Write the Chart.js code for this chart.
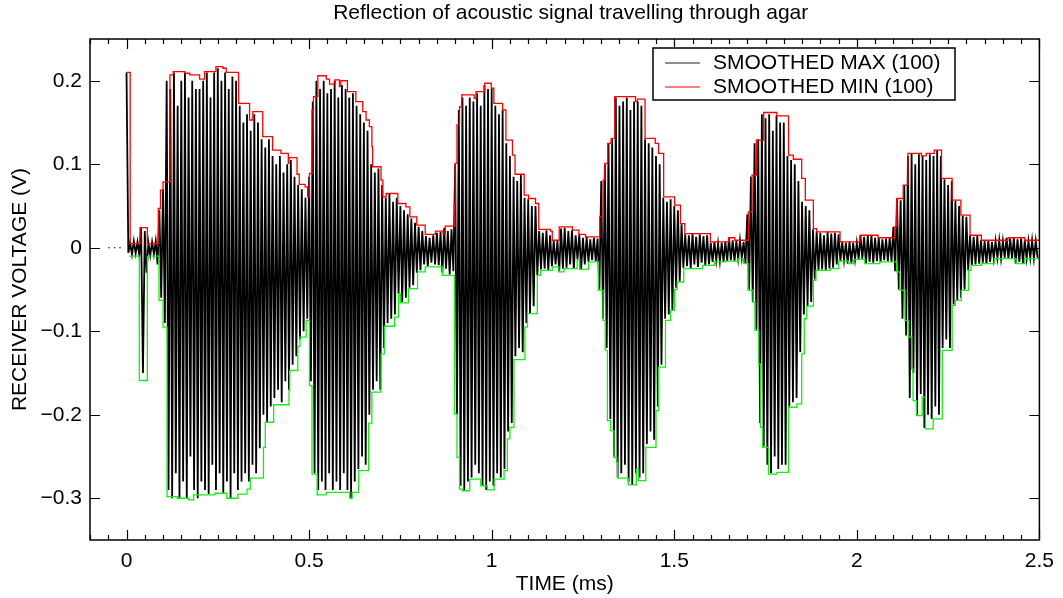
<!DOCTYPE html>
<html>
<head>
<meta charset="utf-8">
<script src="https://cdn.jsdelivr.net/npm/chart.js@4.4.1/dist/chart.umd.min.js"></script>
<style>
  html, body { margin: 0; padding: 0; background: #fff; }
  #wrap { width: 1063px; height: 598px; }
</style>
</head>
<body>
<div id="wrap"><canvas id="c" width="1063" height="598"></canvas></div>
<script>
// axis ticks
const xTickVals = [0, 0.5, 1, 1.5, 2, 2.5];
const yTickVals = [-0.3, -0.2, -0.1, 0, 0.1, 0.2];
const legendLabels = ['SMOOTHED MAX (100)', 'SMOOTHED MIN (100)'];
const chartTitle = 'Reflection of acoustic signal travelling through agar';

// raw receiver signal: one peak + one trough per 0.01 ms (V)
const SIG_T0 = 0, SIG_DT = 0.01;
const sigPeak = [
  0.21, 0.006, 0.008, 0.007, 0.024, 0.02, 0.006, 0.007, 0.008, 0.045,
  0.07, 0.2, 0.19, 0.21, 0.17, 0.2, 0.21, 0.18, 0.2, 0.19,
  0.19, 0.2, 0.21, 0.18, 0.21, 0.215, 0.2, 0.21, 0.19, 0.205,
  0.2, 0.17, 0.15, 0.16, 0.14, 0.16, 0.15, 0.13, 0.12, 0.13,
  0.11, 0.1, 0.11, 0.09, 0.1, 0.105, 0.085, 0.075, 0.07, 0.06,
  0.085, 0.175, 0.2, 0.19, 0.2, 0.185, 0.19, 0.2, 0.18, 0.195,
  0.19, 0.18, 0.185, 0.17, 0.16, 0.15, 0.14, 0.1, 0.09, 0.095,
  0.075, 0.06, 0.065, 0.055, 0.06, 0.05, 0.045, 0.04, 0.035, 0.03,
  0.025, 0.02, 0.014, 0.012, 0.015, 0.018, 0.019, 0.024, 0.02, 0.022,
  0.1, 0.165, 0.18, 0.17, 0.18, 0.175, 0.185, 0.17, 0.195, 0.19,
  0.19, 0.17, 0.16, 0.165, 0.125, 0.11, 0.085, 0.08, 0.087, 0.06,
  0.058, 0.05, 0.05, 0.02, 0.018, 0.021, 0.015, 0.009, 0.008, 0.023,
  0.024, 0.02, 0.021, 0.015, 0.016, 0.012, 0.013, 0.01, 0.012, 0.011,
  0.08, 0.1, 0.125, 0.13, 0.18, 0.17, 0.175, 0.18, 0.165, 0.175,
  0.175, 0.17, 0.13, 0.125, 0.12, 0.11, 0.1, 0.06, 0.055, 0.058,
  0.05, 0.045, 0.028, 0.016, 0.015, 0.017, 0.013, 0.016, 0.014, 0.015,
  0.006, 0.007, 0.005, 0.006, 0.007, 0.012, 0.009, 0.008, 0.009, 0.007,
  0.04, 0.085, 0.125, 0.13, 0.16, 0.155, 0.16, 0.14, 0.158, 0.15,
  0.15, 0.11, 0.105, 0.1, 0.08, 0.055, 0.05, 0.045, 0.022, 0.02,
  0.018, 0.015, 0.019, 0.017, 0.018, 0.016, 0.007, 0.006, 0.007, 0.006,
  0.006, 0.015, 0.013, 0.014, 0.015, 0.012, 0.012, 0.01, 0.011, 0.012,
  0.025, 0.058, 0.057, 0.075, 0.11, 0.113, 0.1, 0.112, 0.11, 0.105,
  0.112, 0.11, 0.117, 0.11, 0.082, 0.075, 0.08, 0.056, 0.05, 0.038,
  0.037, 0.015, 0.013, 0.014, 0.009, 0.008, 0.009, 0.007, 0.008, 0.009,
  0.008, 0.012, 0.011, 0.012, 0.01, 0.011, 0.009, 0.008, 0.009, 0.008
];
const sigTrough = [
  -0.006, -0.008, -0.007, -0.009, -0.15, -0.03, -0.009, -0.008, -0.02, -0.06,
  -0.09, -0.29, -0.3, -0.27, -0.3, -0.28, -0.3, -0.25, -0.29, -0.3,
  -0.28, -0.29, -0.295, -0.26, -0.29, -0.27, -0.295, -0.28, -0.3, -0.27,
  -0.29, -0.28, -0.27, -0.28, -0.26, -0.27, -0.24, -0.2, -0.21, -0.19,
  -0.18, -0.17, -0.185, -0.16, -0.17, -0.14, -0.13, -0.11, -0.1, -0.085,
  -0.16, -0.27, -0.29, -0.28, -0.29, -0.27, -0.29, -0.28, -0.29, -0.27,
  -0.29, -0.3, -0.28, -0.265, -0.25, -0.26, -0.2, -0.17, -0.16, -0.17,
  -0.12, -0.09, -0.085, -0.08, -0.055, -0.065, -0.06, -0.048, -0.045, -0.03,
  -0.027, -0.02, -0.022, -0.018, -0.02, -0.021, -0.03, -0.025, -0.032, -0.028,
  -0.2, -0.285, -0.29, -0.28, -0.275, -0.26, -0.27, -0.285, -0.29, -0.28,
  -0.285, -0.27, -0.275, -0.265, -0.22, -0.21, -0.13, -0.12, -0.125, -0.09,
  -0.078, -0.07, -0.033, -0.026, -0.025, -0.027, -0.022, -0.02, -0.028, -0.025,
  -0.024, -0.02, -0.025, -0.014, -0.026, -0.02, -0.017, -0.015, -0.016, -0.05,
  -0.085, -0.12, -0.205, -0.25, -0.275, -0.27, -0.26, -0.28, -0.284, -0.27,
  -0.275, -0.27, -0.235, -0.22, -0.23, -0.19, -0.14, -0.085, -0.08, -0.075,
  -0.048, -0.04, -0.024, -0.022, -0.025, -0.02, -0.023, -0.018, -0.021, -0.02,
  -0.017, -0.015, -0.016, -0.017, -0.016, -0.015, -0.016, -0.013, -0.012, -0.019,
  -0.05, -0.065, -0.098, -0.21, -0.238, -0.26, -0.27, -0.25, -0.265, -0.26,
  -0.26, -0.19, -0.185, -0.18, -0.125, -0.08, -0.07, -0.065, -0.038, -0.027,
  -0.026, -0.027, -0.025, -0.024, -0.02, -0.016, -0.015, -0.019, -0.018, -0.014,
  -0.014, -0.013, -0.019, -0.017, -0.018, -0.016, -0.017, -0.015, -0.016, -0.017,
  -0.028, -0.05, -0.085, -0.105, -0.18, -0.15, -0.2, -0.175, -0.216, -0.2,
  -0.205, -0.19, -0.2, -0.12, -0.11, -0.12, -0.068, -0.063, -0.06, -0.05,
  -0.027, -0.021, -0.02, -0.019, -0.018, -0.019, -0.017, -0.013, -0.012, -0.013,
  -0.012, -0.013, -0.013, -0.019, -0.017, -0.019, -0.013, -0.012, -0.013, -0.012
];

// pre-trigger baseline (dotted)
const preT = [-0.05, -0.005];
const preV = [0, 0];

// smoothed max (red), step starts at each time
const upT = [0, 0.010, 0.037, 0.057, 0.087, 0.093, 0.100, 0.119, 0.128, 0.160, 0.173, 0.200, 0.214, 0.245, 0.264, 0.273,
  0.307, 0.337, 0.346, 0.373, 0.400, 0.423, 0.443, 0.445, 0.467, 0.473, 0.489, 0.496, 0.501, 0.508, 0.512, 0.524,
  0.547, 0.556, 0.571, 0.583, 0.587, 0.605, 0.628, 0.647, 0.656, 0.665, 0.672, 0.674, 0.697, 0.702, 0.711, 0.743,
  0.765, 0.776, 0.795, 0.818, 0.846, 0.867, 0.873, 0.898, 0.900, 0.905, 0.912, 0.918, 0.952, 0.957, 0.981, 0.999,
  1.006, 1.030, 1.039, 1.057, 1.064, 1.089, 1.101, 1.120, 1.129, 1.161, 1.166, 1.185, 1.221, 1.239, 1.257, 1.296,
  1.305, 1.310, 1.318, 1.327, 1.337, 1.394, 1.399, 1.420, 1.448, 1.457, 1.471, 1.501, 1.517, 1.529, 1.599, 1.649,
  1.666, 1.703, 1.713, 1.725, 1.745, 1.781, 1.813, 1.826, 1.849, 1.859, 1.881, 1.890, 1.954, 2.009, 2.058, 2.104,
  2.109, 2.127, 2.140, 2.177, 2.190, 2.212, 2.232, 2.261, 2.285, 2.310, 2.341, 2.414, 2.460, 2.500];
const upV = [0.210, 0.005, 0.024, 0.005, 0.047, 0.069, 0.079, 0.207, 0.211, 0.209, 0.207, 0.202, 0.211, 0.217, 0.215, 0.210,
  0.173, 0.153, 0.163, 0.133, 0.117, 0.113, 0.101, 0.108, 0.088, 0.076, 0.073, 0.061, 0.089, 0.165, 0.181, 0.206,
  0.202, 0.196, 0.201, 0.193, 0.200, 0.187, 0.175, 0.163, 0.153, 0.145, 0.121, 0.097, 0.081, 0.061, 0.065, 0.053,
  0.049, 0.037, 0.027, 0.016, 0.020, 0.016, 0.026, 0.053, 0.101, 0.147, 0.169, 0.183, 0.179, 0.187, 0.197, 0.191,
  0.173, 0.165, 0.129, 0.111, 0.088, 0.063, 0.059, 0.053, 0.022, 0.020, 0.009, 0.025, 0.021, 0.016, 0.013, 0.037,
  0.081, 0.101, 0.125, 0.131, 0.181, 0.175, 0.178, 0.131, 0.125, 0.113, 0.061, 0.051, 0.029, 0.017, 0.007, 0.012,
  0.009, 0.043, 0.087, 0.129, 0.162, 0.158, 0.111, 0.106, 0.083, 0.057, 0.023, 0.019, 0.007, 0.015, 0.012, 0.025,
  0.059, 0.075, 0.113, 0.110, 0.113, 0.117, 0.083, 0.057, 0.039, 0.015, 0.009, 0.012, 0.009, 0.009];

// smoothed min (green)
const loT = [0.008, 0.035, 0.057, 0.089, 0.100, 0.111, 0.139, 0.170, 0.184, 0.242, 0.275, 0.305, 0.330, 0.339, 0.375, 0.380,
  0.403, 0.445, 0.447, 0.469, 0.475, 0.492, 0.501, 0.508, 0.522, 0.547, 0.611, 0.618, 0.636, 0.663, 0.672, 0.697,
  0.706, 0.734, 0.745, 0.750, 0.772, 0.797, 0.818, 0.865, 0.898, 0.905, 0.912, 0.920, 0.940, 0.970, 0.988, 1.007,
  1.034, 1.043, 1.050, 1.061, 1.091, 1.098, 1.125, 1.134, 1.166, 1.184, 1.198, 1.234, 1.241, 1.265, 1.292, 1.305,
  1.311, 1.317, 1.326, 1.335, 1.342, 1.345, 1.374, 1.396, 1.402, 1.422, 1.450, 1.457, 1.476, 1.490, 1.501, 1.508,
  1.526, 1.578, 1.610, 1.640, 1.676, 1.690, 1.702, 1.716, 1.721, 1.731, 1.736, 1.742, 1.758, 1.781, 1.813, 1.836,
  1.849, 1.856, 1.863, 1.881, 1.888, 1.927, 1.950, 1.977, 1.991, 2.022, 2.063, 2.109, 2.118, 2.132, 2.141, 2.150,
  2.154, 2.163, 2.179, 2.188, 2.209, 2.234, 2.261, 2.270, 2.286, 2.306, 2.313, 2.341, 2.377, 2.436, 2.459, 2.500];
const loV = [-0.010, -0.159, -0.010, -0.063, -0.095, -0.298, -0.300, -0.302, -0.296, -0.294, -0.300, -0.295, -0.289, -0.276, -0.239, -0.209,
  -0.188, -0.171, -0.147, -0.118, -0.107, -0.087, -0.165, -0.271, -0.296, -0.293, -0.300, -0.293, -0.267, -0.210, -0.173, -0.127,
  -0.094, -0.083, -0.055, -0.066, -0.049, -0.029, -0.023, -0.033, -0.199, -0.251, -0.289, -0.291, -0.277, -0.285, -0.290, -0.277,
  -0.267, -0.229, -0.215, -0.134, -0.095, -0.079, -0.033, -0.027, -0.023, -0.029, -0.025, -0.015, -0.026, -0.017, -0.051, -0.087,
  -0.123, -0.207, -0.219, -0.251, -0.257, -0.276, -0.284, -0.265, -0.279, -0.239, -0.195, -0.143, -0.087, -0.075, -0.050, -0.041,
  -0.025, -0.021, -0.017, -0.016, -0.013, -0.019, -0.051, -0.065, -0.099, -0.139, -0.215, -0.239, -0.271, -0.269, -0.191, -0.187,
  -0.127, -0.085, -0.070, -0.039, -0.027, -0.025, -0.016, -0.019, -0.014, -0.019, -0.017, -0.029, -0.051, -0.087, -0.107, -0.145,
  -0.183, -0.201, -0.179, -0.217, -0.205, -0.123, -0.069, -0.063, -0.051, -0.027, -0.021, -0.019, -0.013, -0.019, -0.013, -0.013];

const FONT = '"Liberation Sans", Arial, Helvetica, sans-serif';
const X_MIN = -0.1, X_MAX = 2.5, X_MINOR = 0.05;

// build point lists
const signalPts = [];
sigPeak.forEach((v, i) => {
  const t = SIG_T0 + i * SIG_DT;
  signalPts.push({ x: t, y: v }, { x: t + SIG_DT / 2, y: sigTrough[i] });
});
const toPts = (ts, vs) => ts.map((t, i) => ({ x: t, y: vs[i] }));

const fmt = v => (v < 0 ? '\u2212' + Math.abs(v) : String(v));

// frame + inward ticks on all four sides
const frameTicks = {
  id: 'frameTicks',
  afterDatasetsDraw(chart) {
    const { ctx, chartArea: a, scales: { x, y } } = chart;
    ctx.save();
    ctx.strokeStyle = '#000';
    ctx.lineWidth = 1.2;
    ctx.beginPath();
    for (let k = 0; X_MIN + k * X_MINOR <= X_MAX + 1e-9; k++) {
      const v = X_MIN + k * X_MINOR;
      const px = Math.round(x.getPixelForValue(v)) + 0.5;
      const major = xTickVals.some(t => Math.abs(t - v) < 1e-6);
      const len = major ? 10 : 5;
      ctx.moveTo(px, a.bottom); ctx.lineTo(px, a.bottom - len);
      ctx.moveTo(px, a.top); ctx.lineTo(px, a.top + len);
    }
    yTickVals.forEach(v => {
      const py = Math.round(y.getPixelForValue(v)) + 0.5;
      ctx.moveTo(a.left, py); ctx.lineTo(a.left + 10, py);
      ctx.moveTo(a.right, py); ctx.lineTo(a.right - 10, py);
    });
    ctx.stroke();
    ctx.lineWidth = 1.5;
    ctx.strokeRect(a.left, a.top, a.right - a.left, a.bottom - a.top);
    ctx.restore();
  },
  afterDraw(chart) {
    const { ctx, chartArea: a } = chart;
    ctx.save();
    // title
    ctx.fillStyle = '#000';
    ctx.font = '21px ' + FONT;
    ctx.textAlign = 'center';
    ctx.textBaseline = 'middle';
    ctx.fillText(chartTitle, (a.left + a.right) / 2 + 6, 13);
    // legend box
    const bx = 653, by = 48, bw = 302, bh = 52;
    ctx.fillStyle = '#fff';
    ctx.fillRect(bx, by, bw, bh);
    ctx.strokeStyle = '#000';
    ctx.lineWidth = 1.5;
    ctx.strokeRect(bx, by, bw, bh);
    const colors = ['#222', '#ff0000'];
    legendLabels.forEach((lab, i) => {
      const ly = by + 15 + i * 24;
      ctx.strokeStyle = colors[i];
      ctx.lineWidth = 1.2;
      ctx.beginPath();
      ctx.moveTo(bx + 12, ly); ctx.lineTo(bx + 47, ly);
      ctx.stroke();
      ctx.fillStyle = '#000';
      ctx.textAlign = 'left';
      ctx.fillText(lab, bx + 60, ly);
    });
    ctx.restore();
  }
};

new Chart(document.getElementById('c'), {
  type: 'line',
  data: {
    datasets: [
      {
        label: legendLabels[1],
        data: toPts(upT, upV),
        borderColor: '#ff0000',
        borderWidth: 1.3,
        stepped: true,
        pointRadius: 0,
        order: 1
      },
      {
        label: 'lower',
        data: toPts(loT, loV),
        borderColor: '#11f011',
        borderWidth: 1.3,
        stepped: true,
        pointRadius: 0,
        order: 1
      },
      {
        label: legendLabels[0],
        data: signalPts,
        borderColor: '#000',
        borderWidth: 1.8,
        pointRadius: 0,
        tension: 0,
        order: 2
      },
      {
        label: 'pre',
        data: toPts(preT, preV),
        borderColor: '#000',
        borderWidth: 1.2,
        borderDash: [1.5, 4],
        pointRadius: 0,
        order: 2
      }
    ]
  },
  options: {
    responsive: false,
    animation: false,
    events: [],
    layout: { padding: { left: 0, right: 21, top: 39, bottom: 0 } },
    plugins: {
      legend: { display: false },
      title: { display: false },
      tooltip: { enabled: false }
    },
    scales: {
      x: {
        type: 'linear',
        min: X_MIN,
        max: X_MAX,
        grid: { display: false, drawTicks: false },
        border: { display: false },
        afterBuildTicks: s => { s.ticks = xTickVals.map(v => ({ value: v })); },
        afterFit: s => { s.height = 58; },
        ticks: {
          color: '#000',
          font: { family: FONT, size: 21 },
          padding: 9,
          maxRotation: 0,
          autoSkip: false,
          callback: v => fmt(v)
        },
        title: {
          display: true,
          text: 'TIME (ms)',
          color: '#000',
          font: { family: FONT, size: 21 },
          padding: { top: 0, bottom: 1 }
        }
      },
      y: {
        type: 'linear',
        min: -0.35,
        max: 0.25,
        grid: { display: false, drawTicks: false },
        border: { display: false },
        afterBuildTicks: s => { s.ticks = yTickVals.map(v => ({ value: v })); },
        afterFit: s => { s.width = 90; },
        ticks: {
          color: '#000',
          font: { family: FONT, size: 21 },
          padding: 8,
          autoSkip: false,
          callback: v => fmt(v)
        },
        title: {
          display: true,
          text: 'RECEIVER VOLTAGE (V)',
          color: '#000',
          font: { family: FONT, size: 21 },
          padding: { top: 8, bottom: 0 }
        }
      }
    }
  },
  plugins: [frameTicks]
});
</script>
</body>
</html>
